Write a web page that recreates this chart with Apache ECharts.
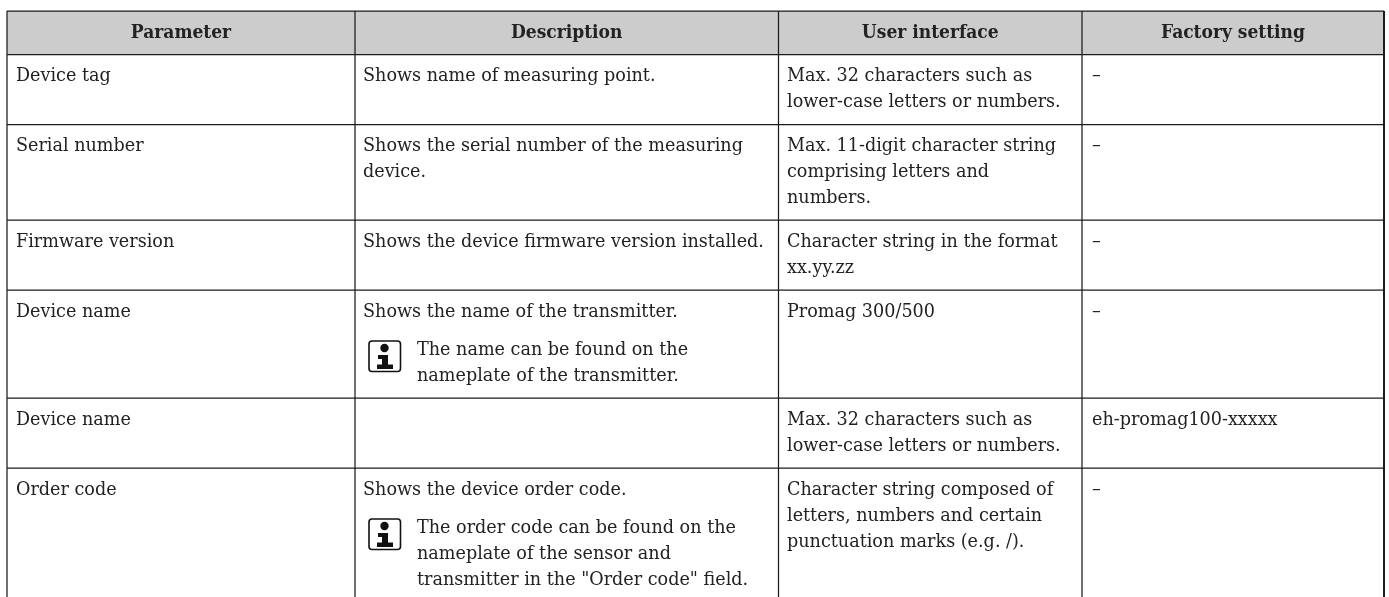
<!DOCTYPE html>
<html><head><meta charset="utf-8">
<style>html,body{margin:0;padding:0;background:#fff}#c{width:1389px;height:597px}</style>
<script src="https://cdn.jsdelivr.net/npm/echarts@6/dist/echarts.min.js"></script>
</head><body><div id="c"></div>
<script>
// ---- table content ----
const headers = ['Parameter', 'Description', 'User interface', 'Factory setting'];
const parameters = ['Device tag', 'Serial number', 'Firmware version', 'Device name', 'Device name', 'Order code'];
const descriptions = [
  ['Shows name of measuring point.'],
  ['Shows the serial number of the measuring', 'device.'],
  ['Shows the device firmware version installed.'],
  ['Shows the name of the transmitter.'],
  [],
  ['Shows the device order code.']
];
const notes = [
  [], [], [],
  ['The name can be found on the', 'nameplate of the transmitter.'],
  [],
  ['The order code can be found on the', 'nameplate of the sensor and', 'transmitter in the "Order code" field.']
];
const userInterface = [
  ['Max. 32 characters such as', 'lower-case letters or numbers.'],
  ['Max. 11-digit character string', 'comprising letters and', 'numbers.'],
  ['Character string in the format', 'xx.yy.zz'],
  ['Promag 300/500'],
  ['Max. 32 characters such as', 'lower-case letters or numbers.'],
  ['Character string composed of', 'letters, numbers and certain', 'punctuation marks (e.g. /).']
];
const factorySetting = ['\u2013', '\u2013', '\u2013', '\u2013', 'eh-promag100-xxxxx', '\u2013'];

// ---- layout (table rulings) ----
const colEdges = [7, 355, 778.5, 1082, 1384];
const rowEdges = [11, 54.5, 124.5, 220, 290, 398, 468];
const pageBottom = 597;
const bodyFont = '"DejaVu Serif",serif';
const headFont = '"DejaVu Serif Condensed","DejaVu Serif",serif';
const bodySize = 17.6, headSize = 19, lineH = 26.2, firstLine = 22, noteGap = 38;
const colText = [16, 363, 787, 1092], noteX = 417;

const rects = [[colEdges[0], rowEdges[0], colEdges[4], rowEdges[1]]];
const lines = [];
rowEdges.forEach(y => lines.push([colEdges[0], y, colEdges[4], y]));
colEdges.forEach(x => lines.push([x, rowEdges[0], x, pageBottom]));

const texts = [];
headers.forEach((h, i) => texts.push({x: (colEdges[i] + colEdges[i + 1]) / 2, y: (rowEdges[0] + rowEdges[1]) / 2 + 0.5, t: h, head: true}));
const icons = [];
parameters.forEach((p, r) => {
  const top = rowEdges[r + 1] + firstLine;
  texts.push({x: colText[0], y: top, t: p});
  descriptions[r].forEach((s, i) => texts.push({x: colText[1], y: top + i * lineH, t: s}));
  if (notes[r].length) {
    const ny = top + noteGap;
    icons.push([colText[1] + 5, ny - 10]);
    notes[r].forEach((s, i) => texts.push({x: noteX, y: ny + i * lineH, t: s}));
  }
  userInterface[r].forEach((s, i) => texts.push({x: colText[2], y: top + i * lineH, t: s}));
  texts.push({x: colText[3], y: top, t: factorySetting[r]});
});

const chart = echarts.init(document.getElementById('c'), null, {renderer: 'canvas'});
const pt = (api, x, y) => api.coord([x, y]);
chart.setOption({
  animation: false,
  backgroundColor: '#fff',
  grid: {left: 0, right: 0, top: 0, bottom: 0},
  xAxis: {type: 'value', min: 0, max: 1389, show: false},
  yAxis: {type: 'value', min: 0, max: 597, inverse: true, show: false},
  series: [
    {type: 'custom', silent: true, clip: false, coordinateSystem: 'cartesian2d', data: rects, z: 1,
     renderItem: (p, api) => {
       const a = pt(api, api.value(0), api.value(1)), b = pt(api, api.value(2), api.value(3));
       return {type: 'rect', shape: {x: a[0], y: a[1], width: b[0] - a[0], height: b[1] - a[1]}, style: {fill: '#cccccc'}};
     }},
    {type: 'custom', silent: true, clip: false, coordinateSystem: 'cartesian2d', data: lines, z: 2,
     renderItem: (p, api) => {
       const a = pt(api, api.value(0), api.value(1)), b = pt(api, api.value(2), api.value(3));
       const edge = api.value(0) === colEdges[4];
       return {type: 'line', shape: {x1: a[0], y1: a[1], x2: b[0], y2: b[1]}, style: {stroke: '#1c1c1c', lineWidth: edge ? 2 : 1.25, fill: null}};
     }},
    {type: 'custom', silent: true, clip: false, coordinateSystem: 'cartesian2d', data: icons, z: 3,
     renderItem: (p, api) => {
       const o = pt(api, api.value(0), api.value(1));
       const f = {fill: '#111'};
       return {type: 'group', x: o[0], y: o[1], children: [
         {type: 'rect', shape: {x: 1, y: 1, width: 31.5, height: 30.5, r: 3}, style: {fill: '#fff', stroke: '#111', lineWidth: 1.6}},
         {type: 'circle', shape: {cx: 16.5, cy: 8, r: 4.2}, style: f},
         {type: 'rect', shape: {x: 14, y: 15, width: 6, height: 13}, style: f},
         {type: 'rect', shape: {x: 10, y: 15, width: 5, height: 4}, style: f},
         {type: 'rect', shape: {x: 9, y: 24.5, width: 16, height: 4.5}, style: f}
       ]};
     }},
    {type: 'custom', silent: true, clip: false, coordinateSystem: 'cartesian2d', z: 4,
     data: texts.map(d => [d.x, d.y]),
     renderItem: (p, api) => {
       const d = texts[p.dataIndex], c = pt(api, api.value(0), api.value(1));
       return {type: 'text', x: c[0], y: c[1], style: {
         text: d.t, fill: '#222', align: d.head ? 'center' : 'left', verticalAlign: 'middle',
         font: d.head ? 'bold ' + headSize + 'px ' + headFont : 'normal ' + bodySize + 'px ' + bodyFont
       }};
     }}
  ]
});
</script></body></html>
